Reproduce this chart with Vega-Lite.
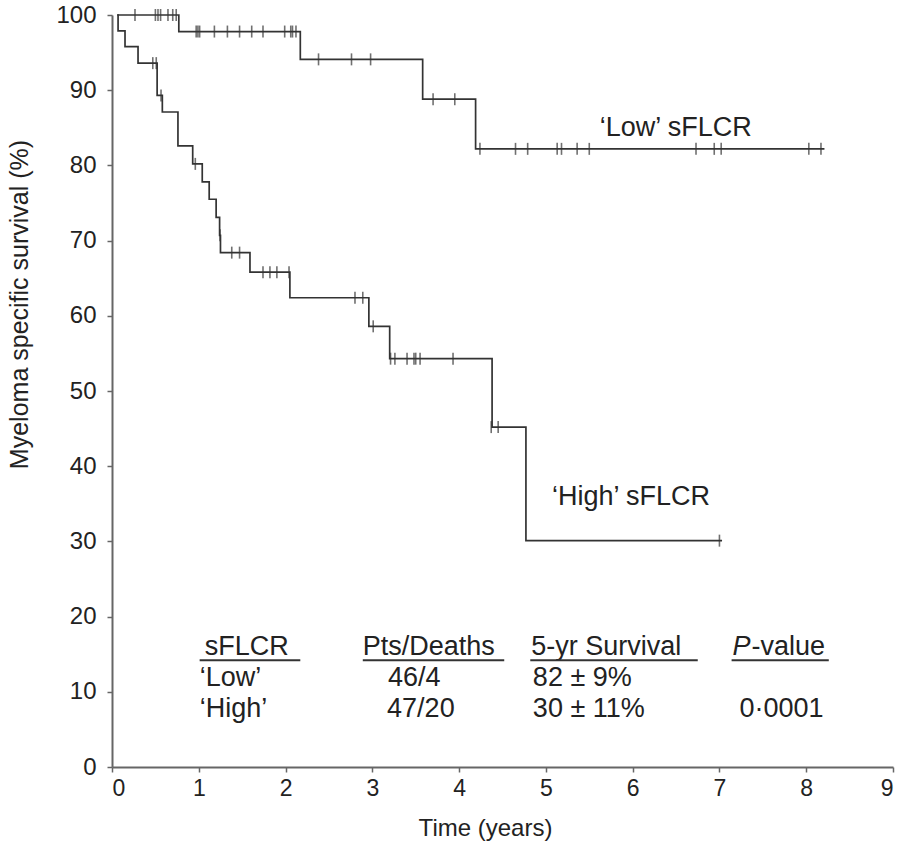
{
  "$schema": "https://vega.github.io/schema/vega-lite/v6.json",
  "width": 781,
  "height": 752,
  "autosize": "none",
  "padding": {"left": 112, "top": 15, "right": 6, "bottom": 75},
  "background": "white",
  "config": {"view": {"stroke": null}, "font": "Liberation Sans"},
  "datasets": {
    "curves": [
      {"grp": "Low", "t": 0.06, "s": 100},
      {"grp": "Low", "t": 0.77, "s": 97.8},
      {"grp": "Low", "t": 2.17, "s": 94.1},
      {"grp": "Low", "t": 3.58, "s": 88.8},
      {"grp": "Low", "t": 4.19, "s": 82.2},
      {"grp": "Low", "t": 8.21, "s": 82.2},
      {"grp": "High", "t": 0.06, "s": 100},
      {"grp": "High", "t": 0.07, "s": 97.9},
      {"grp": "High", "t": 0.15, "s": 95.8},
      {"grp": "High", "t": 0.30, "s": 93.6},
      {"grp": "High", "t": 0.52, "s": 89.3},
      {"grp": "High", "t": 0.58, "s": 87.1},
      {"grp": "High", "t": 0.76, "s": 82.6},
      {"grp": "High", "t": 0.93, "s": 80.2},
      {"grp": "High", "t": 1.04, "s": 77.8},
      {"grp": "High", "t": 1.12, "s": 75.5},
      {"grp": "High", "t": 1.20, "s": 73.1},
      {"grp": "High", "t": 1.24, "s": 70.7},
      {"grp": "High", "t": 1.25, "s": 68.4},
      {"grp": "High", "t": 1.59, "s": 65.8},
      {"grp": "High", "t": 2.05, "s": 62.4},
      {"grp": "High", "t": 2.96, "s": 58.6},
      {"grp": "High", "t": 3.20, "s": 54.3},
      {"grp": "High", "t": 4.38, "s": 45.2},
      {"grp": "High", "t": 4.77, "s": 30.1},
      {"grp": "High", "t": 7.03, "s": 30.1}
    ],
    "censor": [
      {"grp": "Low", "t": 0.265, "s": 100},
      {"grp": "Low", "t": 0.50, "s": 100},
      {"grp": "Low", "t": 0.53, "s": 100},
      {"grp": "Low", "t": 0.56, "s": 100},
      {"grp": "Low", "t": 0.645, "s": 100},
      {"grp": "Low", "t": 0.70, "s": 100},
      {"grp": "Low", "t": 0.74, "s": 100},
      {"grp": "Low", "t": 0.97, "s": 97.8},
      {"grp": "Low", "t": 0.99, "s": 97.8},
      {"grp": "Low", "t": 1.01, "s": 97.8},
      {"grp": "Low", "t": 1.18, "s": 97.8},
      {"grp": "Low", "t": 1.33, "s": 97.8},
      {"grp": "Low", "t": 1.47, "s": 97.8},
      {"grp": "Low", "t": 1.61, "s": 97.8},
      {"grp": "Low", "t": 1.74, "s": 97.8},
      {"grp": "Low", "t": 1.99, "s": 97.8},
      {"grp": "Low", "t": 2.06, "s": 97.8},
      {"grp": "Low", "t": 2.08, "s": 97.8},
      {"grp": "Low", "t": 2.12, "s": 97.8},
      {"grp": "Low", "t": 2.38, "s": 94.1},
      {"grp": "Low", "t": 2.76, "s": 94.1},
      {"grp": "Low", "t": 2.98, "s": 94.1},
      {"grp": "Low", "t": 3.70, "s": 88.8},
      {"grp": "Low", "t": 3.95, "s": 88.8},
      {"grp": "Low", "t": 4.24, "s": 82.2},
      {"grp": "Low", "t": 4.65, "s": 82.2},
      {"grp": "Low", "t": 4.79, "s": 82.2},
      {"grp": "Low", "t": 5.13, "s": 82.2},
      {"grp": "Low", "t": 5.18, "s": 82.2},
      {"grp": "Low", "t": 5.36, "s": 82.2},
      {"grp": "Low", "t": 5.50, "s": 82.2},
      {"grp": "Low", "t": 6.73, "s": 82.2},
      {"grp": "Low", "t": 6.94, "s": 82.2},
      {"grp": "Low", "t": 7.02, "s": 82.2},
      {"grp": "Low", "t": 8.03, "s": 82.2},
      {"grp": "Low", "t": 8.17, "s": 82.2},
      {"grp": "High", "t": 0.47, "s": 93.6},
      {"grp": "High", "t": 0.51, "s": 93.6},
      {"grp": "High", "t": 0.565, "s": 89.3},
      {"grp": "High", "t": 0.96, "s": 80.2},
      {"grp": "High", "t": 1.245, "s": 70.7},
      {"grp": "High", "t": 1.38, "s": 68.4},
      {"grp": "High", "t": 1.47, "s": 68.4},
      {"grp": "High", "t": 1.74, "s": 65.8},
      {"grp": "High", "t": 1.82, "s": 65.8},
      {"grp": "High", "t": 1.90, "s": 65.8},
      {"grp": "High", "t": 2.04, "s": 65.8},
      {"grp": "High", "t": 2.80, "s": 62.4},
      {"grp": "High", "t": 2.89, "s": 62.4},
      {"grp": "High", "t": 3.01, "s": 58.6},
      {"grp": "High", "t": 3.21, "s": 54.3},
      {"grp": "High", "t": 3.26, "s": 54.3},
      {"grp": "High", "t": 3.40, "s": 54.3},
      {"grp": "High", "t": 3.48, "s": 54.3},
      {"grp": "High", "t": 3.50, "s": 54.3},
      {"grp": "High", "t": 3.55, "s": 54.3},
      {"grp": "High", "t": 3.93, "s": 54.3},
      {"grp": "High", "t": 4.37, "s": 45.2},
      {"grp": "High", "t": 4.45, "s": 45.2},
      {"grp": "High", "t": 7.0, "s": 30.1}
    ],
    "curveLabels": [
      {"t": 5.62, "s": 85.0, "label": "‘Low’ sFLCR"},
      {"t": 5.07, "s": 35.9, "label": "‘High’ sFLCR"}
    ],
    "table": [
      {"t": 1.07, "s": 16.0, "label": "sFLCR"},
      {"t": 2.89, "s": 16.0, "label": "Pts/Deaths"},
      {"t": 4.83, "s": 16.0, "label": "5-yr Survival"},
      {"t": 7.37, "s": 16.0, "label": "-value"},
      {"t": 1.01, "s": 11.8, "label": "‘Low’"},
      {"t": 3.18, "s": 11.8, "label": "46/4"},
      {"t": 4.85, "s": 11.8, "label": "82 ± 9%"},
      {"t": 1.01, "s": 7.7, "label": "‘High’"},
      {"t": 3.17, "s": 7.7, "label": "47/20"},
      {"t": 4.85, "s": 7.7, "label": "30 ± 11%"},
      {"t": 7.23, "s": 7.7, "label": "0·0001"}
    ],
    "tableItalic": [
      {"t": 7.15, "s": 16.0, "label": "P"}
    ],
    "underlines": [
      {"t": 1.01, "t2": 2.17, "s": 14.2},
      {"t": 2.89, "t2": 4.52, "s": 14.2},
      {"t": 4.82, "t2": 6.75, "s": 14.2},
      {"t": 7.14, "t2": 8.26, "s": 14.2}
    ]
  },
  "layer": [
    {
      "data": {"name": "curves"},
      "mark": {"type": "line", "interpolate": "step-after", "color": "#333333", "strokeWidth": 1.7},
      "encoding": {
        "x": {
          "field": "t", "type": "quantitative",
          "scale": {"domain": [0, 9], "nice": false, "zero": false},
          "axis": {
            "title": "Time (years)", "values": [0,1,2,3,4,5,6,7,8,9], "format": "d",
            "grid": false, "labelFontSize": 23, "titleFontSize": 24, "titleFontWeight": "normal",
            "labelColor": "#222", "titleColor": "#222", "domainColor": "#666", "domainWidth": 2,
            "tickColor": "#666", "tickWidth": 1.5, "tickSize": 5, "labelPadding": 5,
            "titleX": 373, "titleY": 61, "titleAnchor": "middle", "titleBaseline": "middle"
          }
        },
        "y": {
          "field": "s", "type": "quantitative",
          "scale": {"domain": [0, 100], "nice": false},
          "axis": {
            "title": "Myeloma specific survival (%)", "values": [0,10,20,30,40,50,60,70,80,90,100], "format": "d",
            "grid": false, "labelFontSize": 24, "titleFontSize": 25, "titleFontWeight": "normal",
            "labelColor": "#222", "titleColor": "#222", "domainColor": "#666", "domainWidth": 2,
            "tickColor": "#666", "tickWidth": 1.5, "tickSize": 5, "labelPadding": 11,
            "titleX": -80, "titleY": 289, "titleAnchor": "middle", "titleBaseline": "bottom"
          }
        },
        "detail": {"field": "grp"}
      }
    },
    {
      "data": {"name": "censor"},
      "mark": {"type": "tick", "orient": "vertical", "size": 12, "thickness": 1.6, "color": "#333333"},
      "encoding": {
        "x": {"field": "t", "type": "quantitative"},
        "y": {"field": "s", "type": "quantitative"}
      }
    },
    {
      "data": {"name": "curveLabels"},
      "mark": {"type": "text", "align": "left", "baseline": "middle", "fontSize": 27, "color": "#222"},
      "encoding": {
        "x": {"field": "t", "type": "quantitative"},
        "y": {"field": "s", "type": "quantitative"},
        "text": {"field": "label"}
      }
    },
    {
      "data": {"name": "table"},
      "mark": {"type": "text", "align": "left", "baseline": "middle", "fontSize": 27, "color": "#222"},
      "encoding": {
        "x": {"field": "t", "type": "quantitative"},
        "y": {"field": "s", "type": "quantitative"},
        "text": {"field": "label"}
      }
    },
    {
      "data": {"name": "tableItalic"},
      "mark": {"type": "text", "align": "left", "baseline": "middle", "fontSize": 27, "fontStyle": "italic", "color": "#222"},
      "encoding": {
        "x": {"field": "t", "type": "quantitative"},
        "y": {"field": "s", "type": "quantitative"},
        "text": {"field": "label"}
      }
    },
    {
      "data": {"name": "underlines"},
      "mark": {"type": "rule", "strokeWidth": 2, "color": "#333"},
      "encoding": {
        "x": {"field": "t", "type": "quantitative"},
        "x2": {"field": "t2"},
        "y": {"field": "s", "type": "quantitative"}
      }
    }
  ]
}
